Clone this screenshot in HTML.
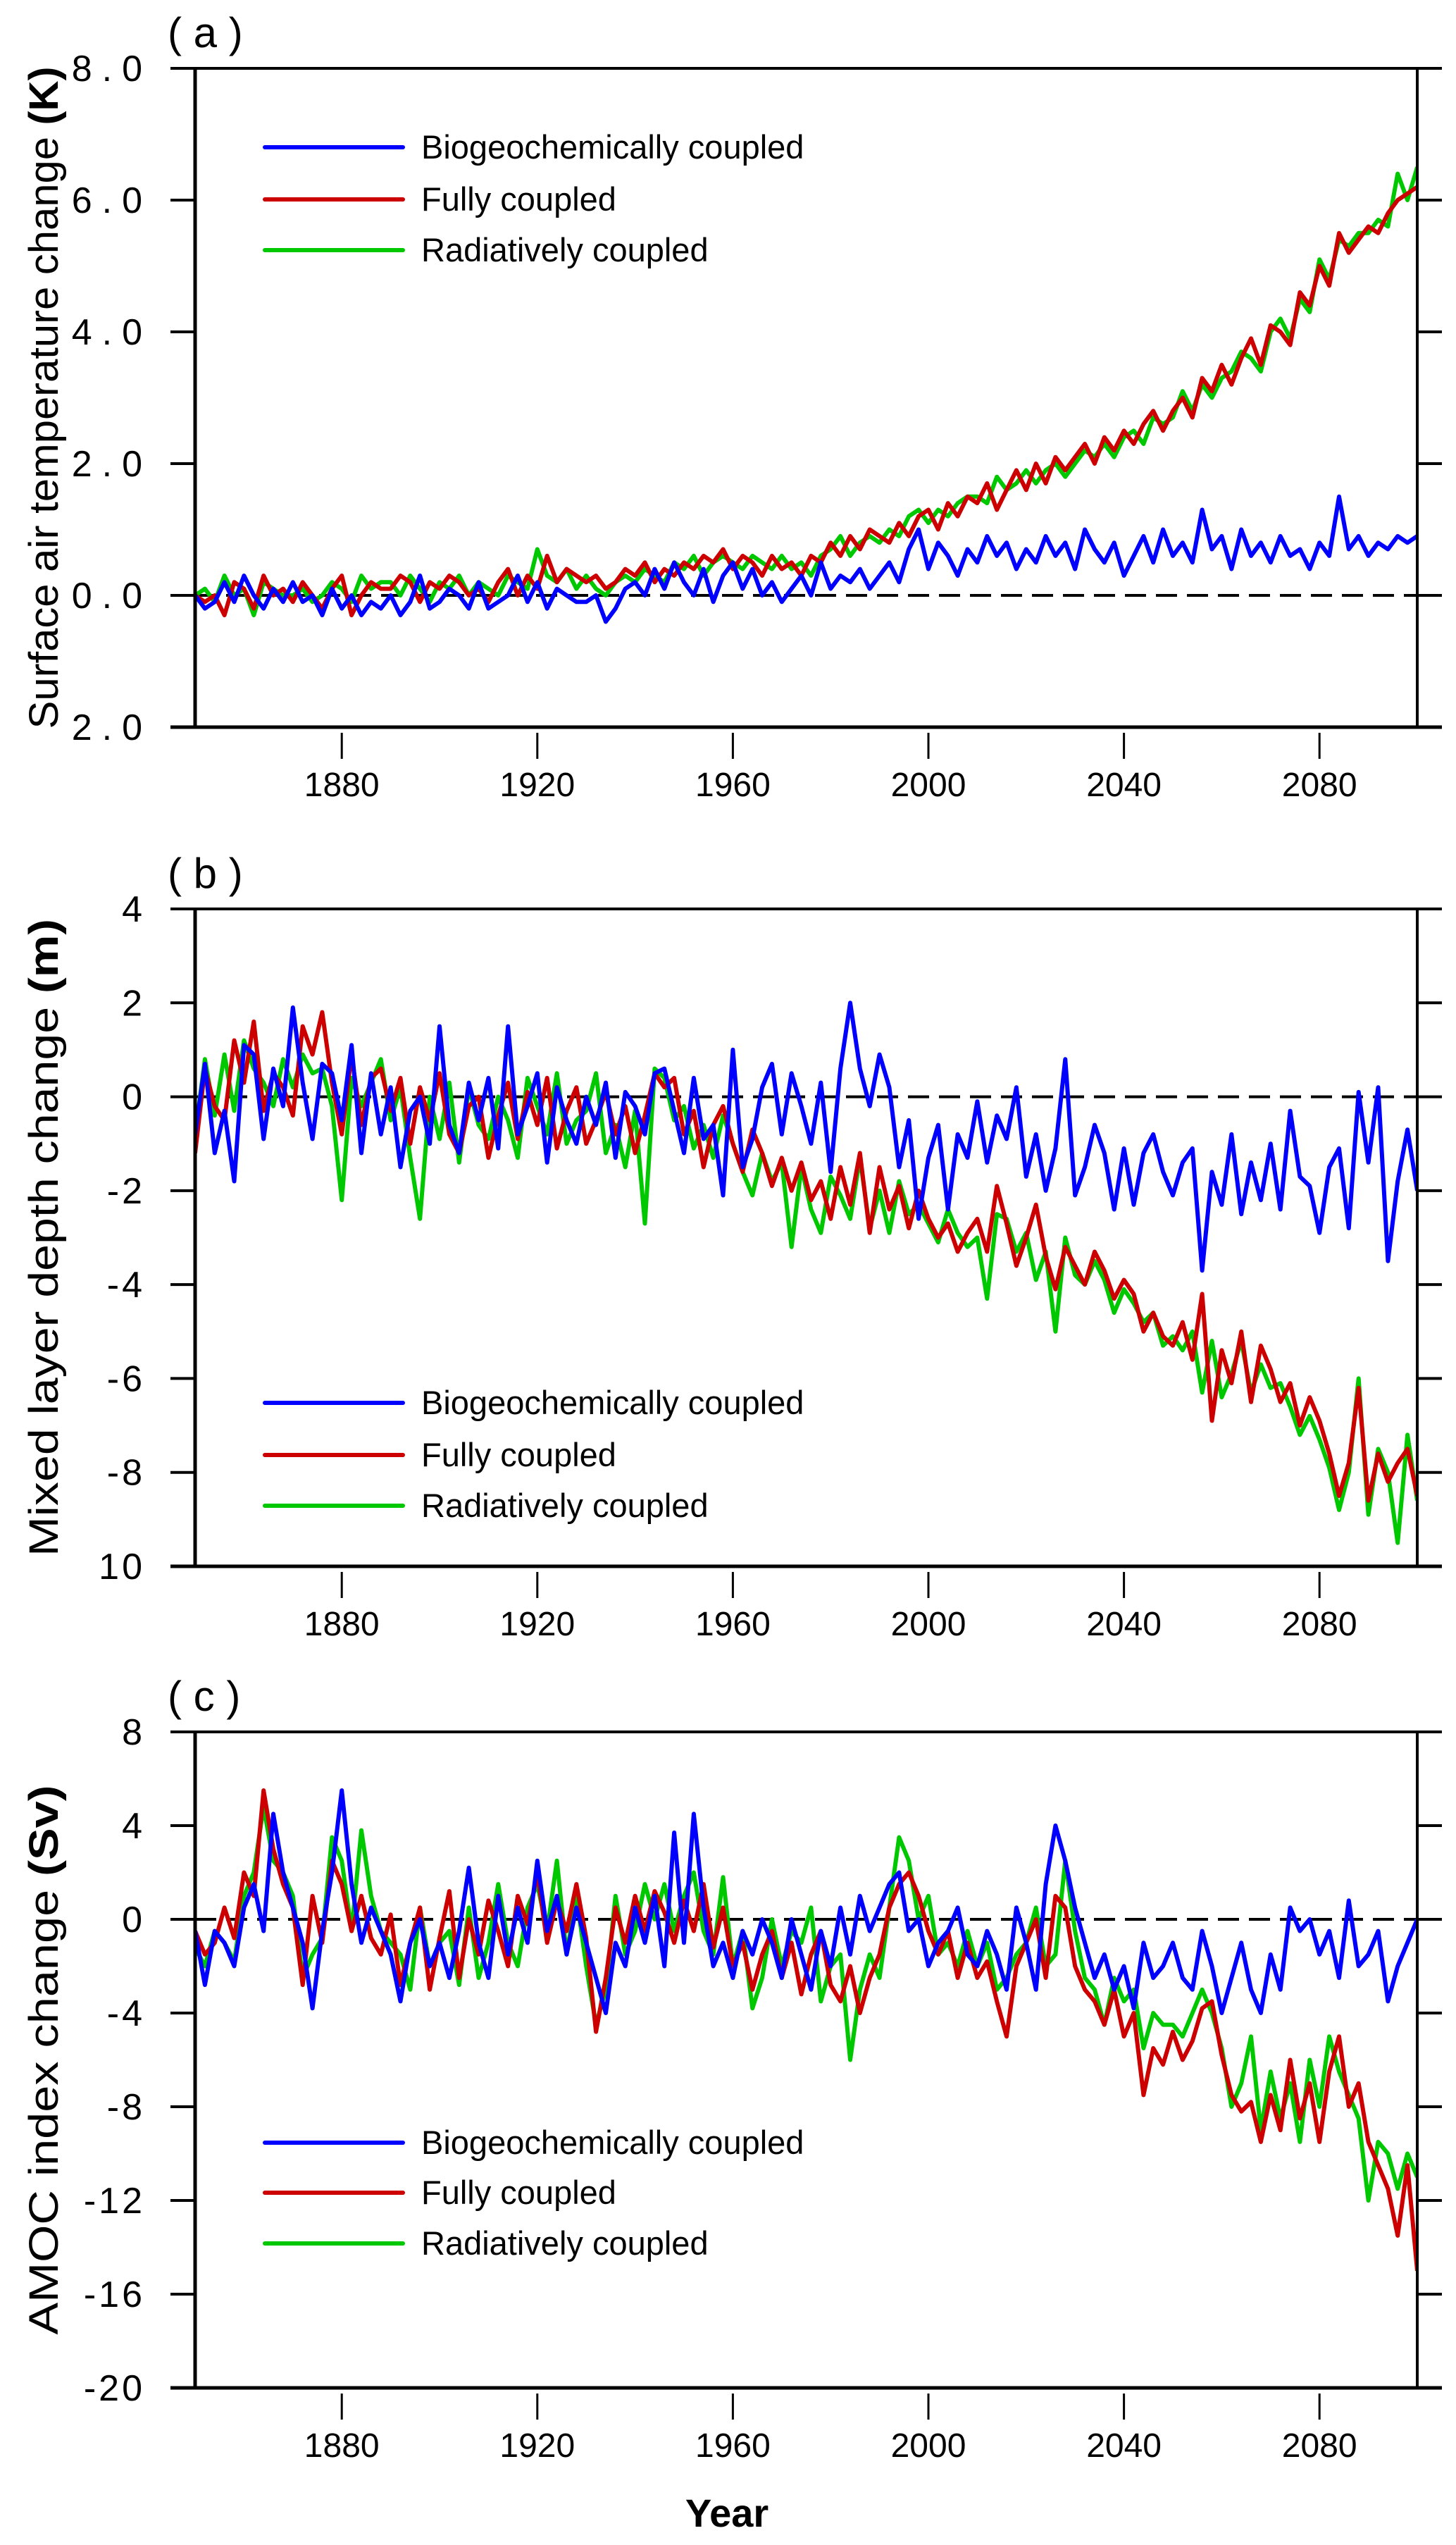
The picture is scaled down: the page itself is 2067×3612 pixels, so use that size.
<!DOCTYPE html>
<html><head><meta charset="utf-8"><style>
html,body{margin:0;padding:0;background:#fff;}
svg{display:block;font-family:"Liberation Sans",Arial,sans-serif;}
</style></head><body>
<svg id="fig" width="2067" height="3612" viewBox="0 0 2067 3612" xmlns="http://www.w3.org/2000/svg">
<defs>
<clipPath id="clipA"><rect x="277" y="97" width="1735" height="935"/></clipPath>
<clipPath id="clipB"><rect x="277" y="1290" width="1735" height="933"/></clipPath>
<clipPath id="clipC"><rect x="277" y="2458" width="1735" height="931"/></clipPath>
</defs>
<g id="root"></g>
</svg>
<script>
const years = [];
for (let y = 1850; y <= 2100; y += 2) years.push(y);
const xTicks = [1880, 1920, 1960, 2000, 2040, 2080];
const seriesNames = ["Biogeochemically coupled", "Fully coupled", "Radiatively coupled"];

const tempBio = [0.0,-0.2,-0.1,0.2,-0.1,0.3,0.0,-0.2,0.1,-0.1, 0.2,-0.1,0.0,-0.3,0.1,-0.2,0.0,-0.3,-0.1,-0.2, 0.0,-0.3,-0.1,0.3,-0.2,-0.1,0.1,0.0,-0.2,0.2, -0.2,-0.1,0.0,0.3,-0.1,0.2,-0.2,0.1,0.0,-0.1, -0.1,0.0,-0.4,-0.2,0.1,0.2,0.0,0.4,0.1,0.5, 0.2,0.0,0.4,-0.1,0.3,0.5,0.1,0.4,0.0,0.2, -0.1,0.1,0.3,0.0,0.5,0.1,0.3,0.2,0.4,0.1, 0.3,0.5,0.2,0.7,1.0,0.4,0.8,0.6,0.3,0.7, 0.5,0.9,0.6,0.8,0.4,0.7,0.5,0.9,0.6,0.8, 0.4,1.0,0.7,0.5,0.8,0.3,0.6,0.9,0.5,1.0, 0.6,0.8,0.5,1.3,0.7,0.9,0.4,1.0,0.6,0.8, 0.5,0.9,0.6,0.7,0.4,0.8,0.6,1.5,0.7,0.9, 0.6,0.8,0.7,0.9,0.8,0.9];
const tempFull = [0.0,-0.1,0.0,-0.3,0.2,0.1,-0.2,0.3,0.0,0.1, -0.1,0.2,0.0,-0.2,0.1,0.3,-0.3,0.0,0.2,0.1, 0.1,0.3,0.2,-0.1,0.2,0.1,0.3,0.2,0.0,0.1, -0.1,0.2,0.4,0.0,0.3,0.1,0.6,0.2,0.4,0.3, 0.2,0.3,0.1,0.2,0.4,0.3,0.5,0.2,0.4,0.3, 0.5,0.4,0.6,0.5,0.7,0.4,0.6,0.5,0.3,0.6, 0.4,0.5,0.3,0.6,0.5,0.8,0.6,0.9,0.7,1.0, 0.9,0.8,1.1,0.9,1.2,1.3,1.0,1.4,1.2,1.5, 1.4,1.7,1.3,1.6,1.9,1.6,2.0,1.7,2.1,1.9, 2.1,2.3,2.0,2.4,2.2,2.5,2.3,2.6,2.8,2.5, 2.8,3.0,2.7,3.3,3.1,3.5,3.2,3.6,3.9,3.5, 4.1,4.0,3.8,4.6,4.4,5.0,4.7,5.5,5.2,5.4, 5.6,5.5,5.8,6.0,6.1,6.2];
const tempRad = [0.0,0.1,-0.1,0.3,0.0,0.1,-0.3,0.2,0.1,0.0, 0.0,0.1,-0.1,0.0,0.2,0.1,-0.1,0.3,0.1,0.2, 0.2,0.0,0.3,0.1,-0.1,0.2,0.1,0.3,0.0,0.2, 0.1,0.0,0.3,0.2,0.1,0.7,0.3,0.2,0.4,0.1, 0.3,0.1,0.0,0.2,0.3,0.2,0.4,0.3,0.2,0.5, 0.4,0.6,0.3,0.5,0.6,0.5,0.4,0.6,0.5,0.4, 0.6,0.4,0.5,0.3,0.6,0.7,0.9,0.6,0.8,0.9, 0.8,1.0,0.9,1.2,1.3,1.1,1.3,1.2,1.4,1.5, 1.5,1.4,1.8,1.6,1.7,1.9,1.7,1.9,2.0,1.8, 2.0,2.2,2.1,2.3,2.1,2.4,2.5,2.3,2.7,2.6, 2.7,3.1,2.8,3.2,3.0,3.3,3.4,3.7,3.6,3.4, 4.0,4.2,3.9,4.5,4.3,5.1,4.8,5.4,5.3,5.5, 5.5,5.7,5.6,6.4,6.0,6.5];

const mldBio = [-0.8,0.7,-1.2,-0.3,-1.8,1.1,0.9,-0.9,0.6,-0.2, 1.9,0.3,-0.9,0.7,0.5,-0.5,1.1,-1.2,0.5,-0.8, 0.2,-1.5,-0.3,0.0,-1.0,1.5,-0.6,-1.2,0.3,-0.5, 0.4,-1.1,1.5,-0.8,-0.2,0.5,-1.4,0.2,-0.5,-1.0, 0.0,-0.6,0.3,-1.3,0.1,-0.2,-0.8,0.5,0.6,-0.3, -1.2,0.4,-0.9,-0.6,-2.1,1.0,-1.5,-0.9,0.2,0.7, -0.8,0.5,-0.2,-1.0,0.3,-1.6,0.6,2.0,0.6,-0.2, 0.9,0.2,-1.5,-0.5,-2.6,-1.3,-0.6,-2.4,-0.8,-1.3, -0.1,-1.4,-0.4,-0.9,0.2,-1.7,-0.8,-2.0,-1.1,0.8, -2.1,-1.5,-0.6,-1.2,-2.4,-1.1,-2.3,-1.2,-0.8,-1.6, -2.1,-1.4,-1.1,-3.7,-1.6,-2.3,-0.8,-2.5,-1.4,-2.2, -1.0,-2.4,-0.3,-1.7,-1.9,-2.9,-1.5,-1.1,-2.8,0.1, -1.4,0.2,-3.5,-1.8,-0.7,-2.0];
const mldFull = [-1.2,0.6,-0.2,-0.5,1.2,0.3,1.6,-0.3,0.5,0.2, -0.4,1.5,0.9,1.8,0.3,-0.8,0.9,-0.6,0.4,0.6, -0.3,0.4,-1.0,0.2,-0.5,0.5,-0.8,-1.2,-0.2,0.0, -1.3,-0.4,0.3,-0.9,0.1,-0.6,0.4,-1.1,-0.3,0.2, -1.0,-0.5,0.1,-0.8,-0.2,-1.2,-0.4,0.5,0.2,0.4, -0.8,-0.3,-1.5,-0.6,-0.2,-1.0,-1.6,-0.7,-1.2,-1.9, -1.3,-2.0,-1.4,-2.2,-1.8,-2.6,-1.5,-2.3,-1.2,-2.9, -1.5,-2.4,-1.9,-2.8,-2.0,-2.6,-3.0,-2.7,-3.3,-2.9, -2.6,-3.3,-1.9,-2.7,-3.6,-3.0,-2.3,-3.4,-4.1,-3.2, -3.6,-4.0,-3.3,-3.7,-4.3,-3.9,-4.2,-5.0,-4.6,-5.1, -5.3,-4.8,-5.6,-4.2,-6.9,-5.4,-6.1,-5.0,-6.5,-5.3, -5.8,-6.5,-6.1,-7.0,-6.4,-6.9,-7.6,-8.5,-7.8,-6.2, -8.6,-7.6,-8.2,-7.8,-7.5,-8.5];
const mldRad = [-0.8,0.8,-0.4,0.9,-0.3,1.2,0.6,0.3,-0.2,0.8, 0.2,0.9,0.5,0.6,-0.2,-2.2,0.4,-0.2,0.3,0.8, -0.5,0.2,-1.3,-2.6,0.0,-0.9,0.3,-1.4,0.2,-0.6, -0.9,0.0,-0.5,-1.3,0.4,-0.2,-0.8,0.5,-1.0,-0.5, -0.3,0.5,-1.2,-0.6,-1.5,-0.3,-2.7,0.6,0.4,-0.5, -0.2,-1.1,-0.6,-1.3,-0.4,-1.0,-1.6,-2.1,-1.2,-1.8, -1.4,-3.2,-1.5,-2.4,-2.9,-1.7,-2.1,-2.6,-1.3,-2.8, -2.0,-2.9,-1.8,-2.5,-2.3,-2.7,-3.1,-2.4,-2.9,-3.2, -3.0,-4.3,-2.5,-2.6,-3.3,-2.9,-3.9,-3.3,-5.0,-3.0, -3.8,-4.0,-3.5,-3.9,-4.6,-4.1,-4.4,-4.8,-4.6,-5.3, -5.1,-5.4,-5.0,-6.3,-5.2,-6.4,-5.9,-5.2,-6.3,-5.7, -6.2,-6.1,-6.6,-7.2,-6.8,-7.3,-7.9,-8.8,-8.0,-6.0, -8.9,-7.5,-8.0,-9.5,-7.2,-8.6];

const amocBio = [-0.5,-2.8,-0.5,-1.0,-2.0,0.5,1.5,-0.5,4.5,2.0, 0.5,-1.0,-3.8,-0.5,2.0,5.5,1.5,-1.0,0.5,-0.5, -1.5,-3.5,-1.0,0.0,-2.0,-1.0,-2.5,-0.5,2.2,-1.0, -2.5,1.0,-1.5,0.5,-1.0,2.5,-0.5,1.0,-1.5,0.5, -1.0,-2.5,-4.0,-1.0,-2.0,0.5,-1.0,1.0,-2.0,3.7, -1.0,4.5,0.5,-2.0,-1.0,-2.5,-0.5,-1.5,0.0,-1.0, -2.5,0.0,-1.5,-3.0,-0.5,-2.0,0.5,-1.5,1.0,-0.5, 0.5,1.5,2.0,-0.5,0.0,-2.0,-1.0,-0.5,0.5,-1.5, -2.0,-0.5,-1.5,-3.0,0.5,-1.0,-3.0,1.5,4.0,2.5, 0.5,-1.0,-2.5,-1.5,-3.0,-2.0,-3.8,-1.0,-2.5,-2.0, -1.0,-2.5,-3.0,-0.5,-2.0,-4.0,-2.5,-1.0,-3.0,-4.0, -1.5,-3.0,0.5,-0.5,0.0,-1.5,-0.5,-2.5,0.8,-2.0, -1.5,-0.5,-3.5,-2.0,-1.0,0.0];
const amocFull = [-0.5,-1.5,-1.0,0.5,-0.8,2.0,1.0,5.5,3.0,1.5, 0.5,-2.8,1.0,-1.0,2.5,1.5,-0.5,1.0,-0.8,-1.5, 0.2,-2.8,-1.0,0.5,-3.0,-0.8,1.2,-2.5,0.0,-1.5, 0.8,-0.5,-2.0,1.0,-0.2,2.0,-1.0,0.8,-0.5,1.5, -0.8,-4.8,-2.5,0.5,-1.0,1.0,-0.5,1.2,0.3,-1.0, 0.8,-0.5,1.5,-1.2,0.5,-2.0,-1.0,-3.0,-1.5,-0.5, -2.5,-1.0,-3.2,-1.5,-0.5,-2.8,-3.5,-2.0,-4.0,-2.5, -1.5,0.5,1.5,2.0,1.0,-0.5,-1.5,-0.5,-2.5,-1.0, -2.5,-1.8,-3.5,-5.0,-2.0,-1.0,0.0,-2.5,1.0,0.5, -2.0,-3.0,-3.5,-4.5,-3.0,-5.0,-4.0,-7.5,-5.5,-6.2, -4.8,-6.0,-5.2,-3.8,-3.5,-5.8,-7.5,-8.2,-7.8,-9.5, -7.5,-9.0,-6.0,-8.5,-7.0,-9.5,-6.5,-5.0,-8.0,-7.0, -9.5,-10.5,-11.5,-13.5,-10.5,-15.0];
const amocRad = [-1.2,-2.0,-0.5,-1.0,-1.8,1.0,2.0,4.8,2.5,2.0, 1.0,-2.5,-1.5,-0.8,3.5,2.5,-0.5,3.8,1.0,-0.5, -1.0,-1.5,-3.0,0.5,-2.0,-1.0,-0.5,-2.8,0.5,-2.5, -1.0,1.5,-1.0,-2.0,0.5,1.5,-0.5,2.5,-1.5,1.0, -2.0,-4.5,-3.0,1.0,-1.5,-0.5,1.5,0.0,1.5,-0.5, 1.0,2.0,-0.5,-1.5,1.8,-2.0,-0.5,-3.8,-2.5,0.0, -2.0,-0.5,-1.0,0.5,-3.5,-2.0,-1.5,-6.0,-3.0,-1.5, -2.5,0.5,3.5,2.5,0.0,1.0,-1.5,-1.0,-2.0,-0.5, -2.0,-1.0,-3.0,-2.5,-1.5,-1.0,0.5,-2.0,-1.5,2.5, -0.5,-2.5,-3.0,-4.5,-2.5,-3.5,-3.0,-5.5,-4.0,-4.5, -4.5,-5.0,-4.0,-3.0,-4.0,-5.5,-8.0,-7.0,-5.0,-9.0, -6.5,-8.5,-7.0,-9.5,-6.0,-8.0,-5.0,-6.5,-7.5,-8.5, -12.0,-9.5,-10.0,-11.5,-10.0,-11.0];

const yTicksA = [8, 6, 4, 2, 0, -2];
const yLabelsA = ["8.0", "6.0", "4.0", "2.0", "0.0", "2.0"];
const yTicksB = [4, 2, 0, -2, -4, -6, -8, -10];
const yLabelsB = ["4", "2", "0", "-2", "-4", "-6", "-8", "10"];
const yTicksC = [8, 4, 0, -4, -8, -12, -16, -20];
const yLabelsC = ["8", "4", "0", "-4", "-8", "-12", "-16", "-20"];

const NS = "http://www.w3.org/2000/svg";
const root = document.getElementById("root");
const X0 = 277, X1 = 2012;
function xScale(yr) { return X0 + (yr - 1850) / 250 * (X1 - X0); }
function mk(tag, attrs, parent) {
  const e = document.createElementNS(NS, tag);
  for (const k in attrs) e.setAttribute(k, attrs[k]);
  (parent || root).appendChild(e);
  return e;
}
const colors = ["#0000ff", "#cc0000", "#00c800"];

function panel(p) {
  const g = mk("g", {});
  
  
  const yScale = v => p.top + (p.ymax - v) / (p.ymax - p.ymin) * (p.bottom - p.top);
  const z = mk("line", {x1: X0, x2: X1, y1: yScale(0), y2: yScale(0), stroke: "#000", "stroke-width": 4, "stroke-dasharray": "30,14"}, g);
  
  
  const order = [2, 1, 0];
  for (const si of order) {
    const vals = p.series[si];
    let d = "";
    vals.forEach((v, i) => { d += (i ? "L" : "M") + xScale(years[i]).toFixed(1) + "," + yScale(v).toFixed(1); });
    const path = mk("path", {d: d, fill: "none", stroke: colors[si], "stroke-width": 6, "stroke-linejoin": "round", "clip-path": "url(#" + p.clip + ")"}, g);
    
    
  }
  const ax = mk("g", {stroke: "#000", "stroke-width": 4, fill: "none", "stroke-linecap": "butt"}, g);
  
  
  mk("line", {x1: 242, x2: 2047, y1: p.top, y2: p.top}, ax);
  mk("line", {x1: 242, x2: 2047, y1: p.bottom, y2: p.bottom, "stroke-width": 5}, ax);
  mk("line", {x1: X0, x2: X0, y1: p.top, y2: p.bottom, "stroke-width": 5}, ax);
  mk("line", {x1: X1, x2: X1, y1: p.top, y2: p.bottom}, ax);
  p.yt.forEach((t, i) => {
    const yy = yScale(t);
    mk("line", {x1: 242, x2: X0, y1: yy, y2: yy}, ax);
    mk("line", {x1: X1, x2: 2047, y1: yy, y2: yy}, ax);
    const tl = mk("text", {x: 202 + p.ls, y: yy + 18, "text-anchor": "end", "font-size": p.fs, fill: "#000", "letter-spacing": p.ls}, g);
    tl.textContent = p.yl[i];
    
    
  });
  xTicks.forEach(t => {
    const xx = xScale(t);
    mk("line", {x1: xx, x2: xx, y1: p.bottom + 8, y2: p.bottom + 45, "stroke-width": 3}, ax);
    const tl = mk("text", {x: xx, y: p.bottom + 98, "text-anchor": "middle", "font-size": 48, fill: "#000"}, g);
    tl.textContent = t;
    
    
  });
  const pl = mk("text", {x: 238, y: p.top - 30, "font-size": 60, fill: "#000"}, g);
  pl.textContent = "( " + p.id + " )";
  
  
  const tt = mk("text", {transform: "translate(82," + ((p.top + p.bottom) / 2) + ") rotate(-90)", "text-anchor": "middle", "font-size": 58, fill: "#000", textLength: p.tlen, lengthAdjust: "spacingAndGlyphs"}, g);
  
  
  const s1 = mk("tspan", {}, tt); s1.textContent = p.title;
  const s2 = mk("tspan", {"font-weight": "bold"}, tt); s2.textContent = p.unit;
  const lg = mk("g", {}, g);
  
  
  p.legY.forEach((ly, i) => {
    const ln = mk("line", {x1: 376, x2: 572, y1: ly, y2: ly, stroke: colors[i], "stroke-width": 6, "stroke-linecap": "round"}, lg);
    
    
    const lt = mk("text", {x: 598, y: ly + 16, "font-size": 47, fill: "#000"}, lg);
    lt.textContent = seriesNames[i];
    
    
  });
}

panel({id: "a", top: 97, bottom: 1032, ymax: 8, ymin: -2, clip: "clipA", series: [tempBio, tempFull, tempRad], yt: yTicksA, yl: yLabelsA, ls: 14, fs: 52, title: "Surface air temperature change ", unit: "(K)", tlen: 940, legY: [209, 283, 355]});
panel({id: "b", top: 1290, bottom: 2223, ymax: 4, ymin: -10, clip: "clipB", series: [mldBio, mldFull, mldRad], yt: yTicksB, yl: yLabelsB, ls: 4, fs: 52, title: "Mixed layer depth  change ", unit: "(m)", tlen: 905, legY: [1991, 2065, 2137]});
panel({id: "c", top: 2458, bottom: 3389, ymax: 8, ymin: -20, clip: "clipC", series: [amocBio, amocFull, amocRad], yt: yTicksC, yl: yLabelsC, ls: 4, fs: 52, title: "AMOC index change  ", unit: "(Sv)", tlen: 780, legY: [3041, 3112, 3184]});

const xl = mk("text", {x: 1032, y: 3586, "text-anchor": "middle", "font-size": 56, "font-weight": "bold", fill: "#000"});
xl.textContent = "Year";


</script>
</body></html>
